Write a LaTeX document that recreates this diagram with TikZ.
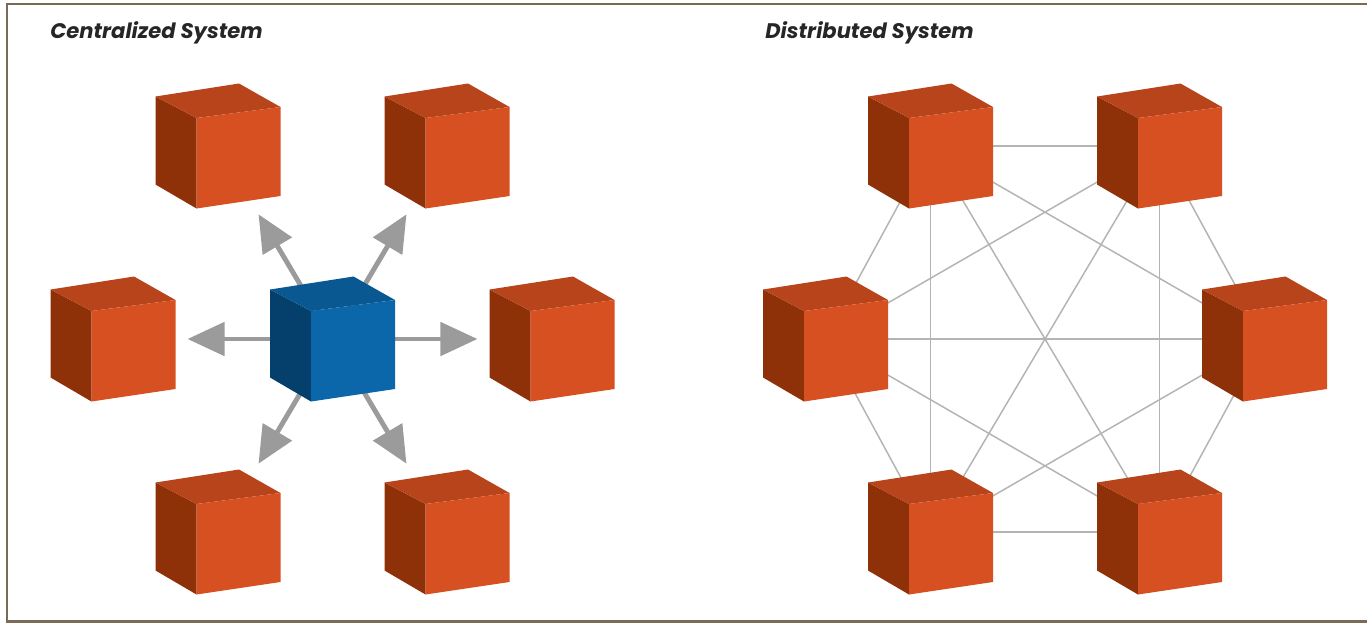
\documentclass[tikz,border=0pt]{standalone}
\usepackage{fontspec}
\setmainfont{Poppins}
\usetikzlibrary{arrows.meta,calc}

\definecolor{ofront}{HTML}{D75022}
\definecolor{otop}{HTML}{B8441B}
\definecolor{oside}{HTML}{8F3108}
\definecolor{bfront}{HTML}{0B67A9}
\definecolor{btop}{HTML}{0A5891}
\definecolor{bside}{HTML}{053F6C}
\definecolor{framebrown}{HTML}{7B6A55}
\definecolor{spokegray}{HTML}{9B9B9B}
\definecolor{linkgray}{HTML}{B4B4B4}

\tikzset{
  pics/cube/.style n args={3}{code={
      % left side, top, front
      \fill[#3] (-62.5,-49.5) -- (-21.5,-28) -- (-21.5,62.5) -- (-62.5,38.5) -- cycle;
      \fill[#2] (-62.5,-49.5) -- (21,-62.5) -- (62.5,-39) -- (-21.5,-28) -- cycle;
      \fill[#1] (-21.5,-28) -- (62.5,-39) -- (62.5,50) -- (-21.5,62.5) -- cycle;
  }}
}

\begin{document}
\begin{tikzpicture}[x=0.02cm,y=-0.02cm,
    title/.style={anchor=base west,inner sep=0pt,font=\fontsize{12}{14}\selectfont\bfseries\itshape,text=black!85},
    spoke/.style={spokegray,line width=2.8pt,-{Triangle[length=0.74cm,width=0.66cm]}},
    link/.style={linkgray,line width=0.85pt},
    frame/.style={framebrown,line width=1.7pt}]
    \useasboundingbox (0,0) rectangle (1367,623);

    % outer frame (open on the right)
    \draw[frame] (1367,4) -- (7,4) -- (7,621.5) -- (1367,621.5);

    % titles
    \node[title] (ctitle) at (50,38) {Centralized System};
    \node[title] (dtitle) at (765,38) {Distributed System};

    % centralized: hub and its clients
    \coordinate (hub) at (332.5,339);
    \foreach \n/\dx/\dy in {a/-114.5/-193, b/114.5/-193, c/-219.5/0,
                            d/219.5/0, e/-114.5/193, f/114.5/193}
        \coordinate (c\n) at ({332.5+\dx},{339+\dy});

    % arrows from the hub
    \foreach \n in {a,b,c,d,e,f}
        \draw[spoke] (hub) -- ($(hub)!2.9cm!(c\n)$);

    \foreach \n in {a,b,c,d,e,f}
        \pic at (c\n) {cube={ofront}{otop}{oside}};
    \pic at (hub) {cube={bfront}{btop}{bside}};

    % distributed: every node linked to every other
    \foreach \n/\dx/\dy in {a/-114.5/-193, b/114.5/-193, c/-219.5/0,
                            d/219.5/0, e/-114.5/193, f/114.5/193}
        \coordinate (d\n) at ({1045+\dx},{339+\dy});

    \foreach \a/\b in {a/b,a/c,a/d,a/e,a/f,b/c,b/d,b/e,b/f,
                       c/d,c/e,c/f,d/e,d/f,e/f}
        \draw[link] (d\a) -- (d\b);

    \foreach \n in {a,b,c,d,e,f}
        \pic at (d\n) {cube={ofront}{otop}{oside}};
\end{tikzpicture}
\end{document}
